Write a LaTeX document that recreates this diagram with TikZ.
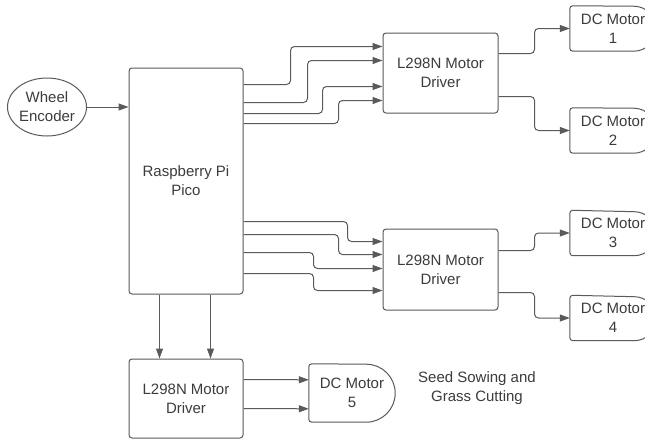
\documentclass[tikz,border=0pt]{standalone}
\usepackage{fontspec}
\setmainfont{Liberation Sans}
\usetikzlibrary{arrows.meta,calc,shapes.geometric}
\definecolor{lncol}{RGB}{90,90,90}
\definecolor{txcol}{RGB}{60,60,60}
\newcommand{\motorshape}[2]{%
  \draw[draw=lncol, line width=1pt]
    ([xshift=-#2pt]#1.south east) arc[start angle=-90,end angle=90,radius=#2pt]
    -- ([xshift=3pt]#1.north west) arc[start angle=90,end angle=180,radius=3pt]
    -- ([yshift=3pt]#1.south west) arc[start angle=180,end angle=270,radius=3pt]
    -- cycle;}
\begin{document}
\begin{tikzpicture}[x=1pt,y=-1pt, font=\fontsize{15}{19}\selectfont, text=txcol,
  box/.style={draw=lncol, line width=1pt, rounded corners=3pt, align=center, inner sep=0pt},
  conn/.style={draw=lncol, line width=1pt, rounded corners=4pt, -{Triangle[length=10pt,width=7pt]}},
  motor/.style={align=center, minimum width=86pt, minimum height=45pt, inner sep=0pt}]
\clip (0,0) rectangle (645,439);
\fill[white] (0,0) rectangle (645,439);
% nodes
\node[box, minimum width=114pt, minimum height=226pt] (pi) at (186,181) {Raspberry Pi\\Pico};
\node[draw=lncol, line width=1pt, ellipse, minimum width=70pt, minimum height=58pt, inner sep=0pt, align=center] (enc) at (47,107) {Wheel\\Encoder};
\node[box, minimum width=115pt, minimum height=80pt] (d1) at (440.5,73) {L298N Motor\\Driver};
\node[box, minimum width=115pt, minimum height=81pt] (d2) at (440.5,269.5) {L298N Motor\\Driver};
\node[box, minimum width=114pt, minimum height=79pt] (d3) at (186,398.5) {L298N Motor\\Driver};
\node[motor] (m1) at (613,28.5) {DC Motor\\1};
\node[motor] (m2) at (613,130.5) {DC Motor\\2};
\node[motor] (m3) at (613,233) {DC Motor\\3};
\node[motor] (m4) at (613,318) {DC Motor\\4};
\node[motor, minimum height=58pt] (m5) at (352,393) {DC Motor\\5};
\motorshape{m1}{22.5}
\motorshape{m2}{22.5}
\motorshape{m3}{22}
\motorshape{m4}{22}
\motorshape{m5}{29}
\node[align=center] (lbl) at (477,388) {Seed Sowing and\\Grass Cutting};
% encoder to pi
\draw[conn] (enc.east) -- (pi.west |- enc.east);
% pi to driver 1
\draw[conn] ($(pi.north east)+(0,17)$) -- ++(47,0) |- ($(d1.north west)+(0,14)$);
\draw[conn] ($(pi.north east)+(0,35)$) -- ++(64,0) |- ($(d1.north west)+(0,28)$);
\draw[conn] ($(pi.north east)+(0,46)$) -- ++(79,0) |- ($(d1.north west)+(0,54)$);
\draw[conn] ($(pi.north east)+(0,56)$) -- ++(95,0) |- ($(d1.north west)+(0,68)$);
% pi to driver 2
\draw[conn] ($(pi.north east)+(0,154)$) -- ++(104,0) |- ($(d2.north west)+(0,13)$);
\draw[conn] ($(pi.north east)+(0,167)$) -- ++(95,0) |- ($(d2.north west)+(0,26)$);
\draw[conn] ($(pi.north east)+(0,185)$) -- ++(70,0) |- ($(d2.north west)+(0,40)$);
\draw[conn] ($(pi.north east)+(0,206)$) -- ++(70,0) |- ($(d2.north west)+(0,62)$);
% pi to driver 3
\draw[conn] ($(pi.south west)+(31,0)$) -- ($(d3.north west)+(31,0)$);
\draw[conn] ($(pi.south west)+(82,0)$) -- ($(d3.north west)+(82,0)$);
% drivers to motors
\draw[conn] ($(d1.north east)+(0,21)$) -- ++(36,0) |- (m1.west);
\draw[conn] ($(d1.north east)+(0,64)$) -- ++(36,0) |- (m2.west);
\draw[conn] ($(d2.north east)+(0,22)$) -- ++(36,0) |- (m3.west);
\draw[conn] ($(d2.north east)+(0,64)$) -- ++(36,0) |- (m4.west);
\draw[conn] ($(d3.north east)+(0,21)$) -- ($(m5.north west)+(0,16)$);
\draw[conn] ($(d3.north east)+(0,50)$) -- ($(m5.north west)+(0,45)$);
\end{tikzpicture}
\end{document}
